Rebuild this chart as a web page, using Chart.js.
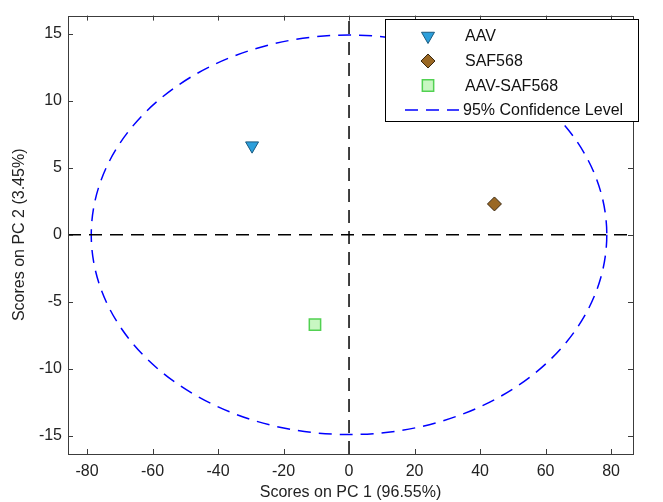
<!DOCTYPE html>
<html>
<head>
<meta charset="utf-8">
<script src="https://cdn.jsdelivr.net/npm/chart.js@4"></script>
<style>
  html, body { margin: 0; padding: 0; background: #fff; }
  #wrap { width: 663px; height: 502px; }
</style>
</head>
<body>
<div id="wrap"><canvas id="pcaChart" width="663" height="502"></canvas></div>
<script>
// PCA scores data
const groupNames = ['AAV', 'SAF568', 'AAV-SAF568'];
const pc1Scores = [-29.6, 44.4, -10.4];
const pc2Scores = [6.65, 2.3, -6.7];
const confidenceRadii = [78.7, 14.9]; // 95% confidence ellipse, PC1 / PC2 half-axes
const xTicks = [-80, -60, -40, -20, 0, 20, 40, 60, 80];
const yTicks = [-15, -10, -5, 0, 5, 10, 15];
const xRange = [-85.8, 86.7];
const yRange = [-16.35, 16.35];

const markerStyles = [
    { pointStyle: 'triangle', rotation: 180, radius: 7.5, fill: '#2c9fdb', stroke: '#1a5b80', width: 1 },
    { pointStyle: 'rectRot', rotation: 0, radius: 7, fill: '#9a6824', stroke: '#3a2810', width: 1 },
    { pointStyle: 'rect', rotation: 0, radius: 8, fill: '#c8f7c2', stroke: '#52d152', width: 1.5 }
];

const FONT = 'Arial, "Liberation Sans", sans-serif';

const datasets = groupNames.map((name, i) => ({
    label: name,
    data: [{ x: pc1Scores[i], y: pc2Scores[i] }],
    pointStyle: markerStyles[i].pointStyle,
    rotation: markerStyles[i].rotation,
    pointRadius: markerStyles[i].radius,
    pointHoverRadius: markerStyles[i].radius,
    backgroundColor: markerStyles[i].fill,
    borderColor: markerStyles[i].stroke,
    borderWidth: markerStyles[i].width,
    order: 1
}));

// zero lines through the origin
datasets.push({
    type: 'line', label: 'x0',
    data: [{ x: 0, y: yRange[0] }, { x: 0, y: yRange[1] }],
    borderColor: '#000', borderWidth: 1.5, borderDash: [13, 8], pointRadius: 0, order: 3
});
datasets.push({
    type: 'line', label: 'y0',
    data: [{ x: xRange[0], y: 0 }, { x: xRange[1], y: 0 }],
    borderColor: '#000', borderWidth: 1.5, borderDash: [13, 8], pointRadius: 0, order: 3
});

// ellipse, frame with inward ticks, and legend box
const decorPlugin = {
    id: 'decor',
    beforeDatasetsDraw(chart) {
        const { ctx, scales: { x, y } } = chart;
        const cx = x.getPixelForValue(0), cy = y.getPixelForValue(0);
        const rx = x.getPixelForValue(confidenceRadii[0]) - cx;
        const ry = cy - y.getPixelForValue(confidenceRadii[1]);
        ctx.save();
        ctx.strokeStyle = '#0000ff';
        ctx.lineWidth = 1.5;
        ctx.setLineDash([13, 8]);
        ctx.beginPath();
        ctx.ellipse(cx, cy, rx, ry, 0, 0, Math.PI * 2);
        ctx.stroke();
        ctx.restore();
    },
    afterDraw(chart) {
        const { ctx, chartArea: a, scales: { x, y } } = chart;
        ctx.save();
        ctx.strokeStyle = '#3c3c3c';
        ctx.lineWidth = 1;
        ctx.strokeRect(Math.round(a.left) + 0.5, Math.round(a.top) + 0.5,
            Math.round(a.right - a.left), Math.round(a.bottom - a.top));
        ctx.beginPath();
        xTicks.forEach(v => {
            const px = Math.round(x.getPixelForValue(v)) + 0.5;
            ctx.moveTo(px, a.bottom); ctx.lineTo(px, a.bottom - 5);
            ctx.moveTo(px, a.top); ctx.lineTo(px, a.top + 5);
        });
        yTicks.forEach(v => {
            const py = Math.round(y.getPixelForValue(v)) + 0.5;
            ctx.moveTo(a.left, py); ctx.lineTo(a.left + 5, py);
            ctx.moveTo(a.right, py); ctx.lineTo(a.right - 5, py);
        });
        ctx.stroke();

        // legend
        const bx = 385.5, by = 19.5, bw = 253, bh = 102;
        ctx.fillStyle = '#fff';
        ctx.fillRect(bx, by, bw, bh);
        ctx.strokeStyle = '#000';
        ctx.strokeRect(bx, by, bw, bh);
        const rows = [36, 61, 85.5, 110];
        ctx.font = '16px ' + FONT;
        ctx.textBaseline = 'middle';
        groupNames.forEach((name, i) => {
            const m = markerStyles[i];
            ctx.fillStyle = m.fill;
            ctx.strokeStyle = m.stroke;
            ctx.lineWidth = m.width;
            Chart.helpers.drawPoint(ctx, { pointStyle: m.pointStyle, rotation: m.rotation, radius: m.radius, borderWidth: m.width }, 428, rows[i]);
            ctx.fillStyle = '#111';
            ctx.fillText(name, 465, rows[i] + 1);
        });
        ctx.strokeStyle = '#0000ff';
        ctx.lineWidth = 1.5;
        ctx.setLineDash([13, 8]);
        ctx.beginPath();
        ctx.moveTo(405, rows[3]); ctx.lineTo(459, rows[3]);
        ctx.stroke();
        ctx.setLineDash([]);
        ctx.fillStyle = '#111';
        ctx.fillText('95% Confidence Level', 463, rows[3] + 1);
        ctx.restore();
    }
};

const ctx = document.getElementById('pcaChart').getContext('2d');
const pcaChart = new Chart(ctx, {
    type: 'scatter',
    data: { datasets: datasets },
    options: {
        responsive: false,
        animation: false,
        layout: { padding: { left: 0, top: 10, right: 30, bottom: 0 } },
        plugins: { legend: { display: false }, tooltip: { enabled: false } },
        scales: {
            x: {
                type: 'linear', min: xRange[0], max: xRange[1],
                grid: { display: false, drawTicks: false }, border: { display: false },
                afterBuildTicks: s => { s.ticks = xTicks.map(v => ({ value: v })); },
                afterFit: s => { s.height = 48; },
                ticks: { color: '#222', padding: 8, font: { family: FONT, size: 16 }, maxRotation: 0 },
                title: { display: true, text: 'Scores on PC 1 (96.55%)', color: '#222',
                    font: { family: FONT, size: 16 }, padding: { top: 0, bottom: 0 } }
            },
            y: {
                type: 'linear', min: yRange[0], max: yRange[1],
                grid: { display: false, drawTicks: false }, border: { display: false },
                afterBuildTicks: s => { s.ticks = yTicks.map(v => ({ value: v })); },
                afterFit: s => { s.width = 68; },
                ticks: { color: '#222', padding: 6, font: { family: FONT, size: 16 } },
                title: { display: true, text: 'Scores on PC 2 (3.45%)', color: '#222',
                    font: { family: FONT, size: 16 }, padding: { top: 10, bottom: 0 } }
            }
        }
    },
    plugins: [decorPlugin]
});
</script>
</body>
</html>
